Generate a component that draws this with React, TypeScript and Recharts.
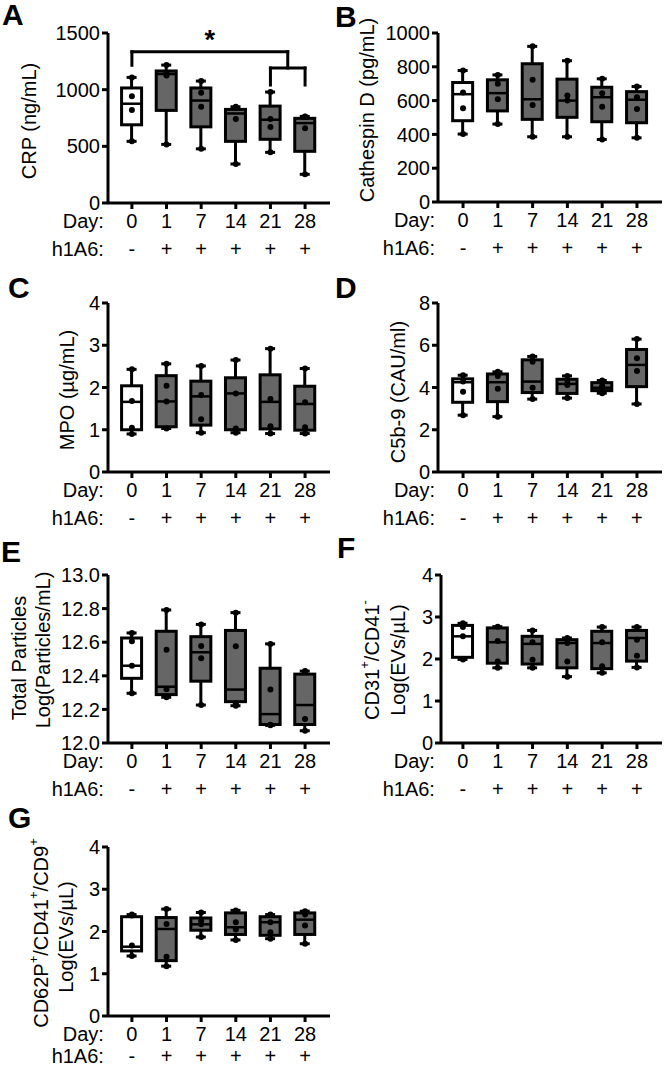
import React from "react";
import { Bar, ComposedChart, ReferenceDot, ReferenceLine, Scatter, XAxis, YAxis } from "recharts";

const FONT = '"Liberation Sans", Arial, Helvetica, sans-serif';
const BOX_GRAY = "#666666";

const days = ["0", "1", "7", "14", "21", "28"];
const h1a6 = ["-", "+", "+", "+", "+", "+"];

// A: CRP (ng/mL)
const crpMin = [544, 517, 478, 344, 447, 253];
const crpQ1 = [690, 817, 672, 544, 562, 456];
const crpMed = [876, 1138, 904, 790, 735, 705];
const crpQ3 = [1015, 1165, 1015, 826, 855, 747];
const crpMax = [1108, 1217, 1076, 849, 979, 764];
const crpDotA = [941, 1145, 973, 840, 741, 760];
const crpDotB = [820, 1125, 850, 742, 670, 660];

// B: Cathespin D (pg/mL)
const catMin = [402, 461, 386, 386, 370, 380];
const catQ1 = [481, 539, 489, 501, 475, 469];
const catMed = [638, 644, 608, 600, 620, 605];
const catQ3 = [707, 723, 818, 727, 679, 653];
const catMax = [778, 752, 921, 836, 729, 683];
const catDotA = [648, 699, 723, 630, 644, 620];
const catDotB = [554, 608, 574, 600, 564, 550];

// C: MPO (µg/mL)
const mpoMin = [0.9, 1.03, 0.93, 0.93, 0.91, 0.91];
const mpoQ1 = [1.0, 1.07, 1.11, 1.0, 1.02, 0.99];
const mpoMed = [1.66, 1.67, 1.79, 1.86, 1.66, 1.61];
const mpoQ3 = [2.04, 2.28, 2.15, 2.23, 2.3, 2.03];
const mpoMax = [2.43, 2.56, 2.51, 2.65, 2.92, 2.45];
const mpoDotA = [1.68, 2.04, 1.82, 1.86, 1.73, 1.65];
const mpoDotB = [1.05, 1.67, 1.25, 1.03, 1.08, 1.06];

// D: C5b-9 (CAU/ml)
const c5bMin = [2.69, 2.62, 3.45, 3.5, 3.73, 3.22];
const c5bQ1 = [3.3, 3.33, 3.76, 3.72, 3.85, 4.04];
const c5bMed = [4.25, 4.25, 4.28, 4.17, 3.99, 5.07];
const c5bQ3 = [4.41, 4.64, 5.31, 4.39, 4.23, 5.8];
const c5bMax = [4.58, 4.74, 5.47, 4.55, 4.33, 6.29];
const c5bDotA = [4.28, 4.55, 5.22, 4.22, 4.08, 5.38];
const c5bDotB = [3.8, 3.94, 3.99, 4.12, 4.0, 4.78];

// E: Total particles, log(particles/mL)
const totMin = [12.296, 12.272, 12.226, 12.222, 12.105, 12.073];
const totQ1 = [12.385, 12.288, 12.368, 12.246, 12.11, 12.11];
const totMed = [12.46, 12.335, 12.54, 12.318, 12.172, 12.226];
const totQ3 = [12.625, 12.665, 12.633, 12.67, 12.445, 12.41];
const totMax = [12.655, 12.792, 12.706, 12.776, 12.59, 12.428];
const totDotA = [12.605, 12.555, 12.578, 12.576, 12.318, 12.425];
const totDotB = [12.46, 12.32, 12.505, 12.235, 12.108, 12.143];

// F: CD31+/CD41- EVs, log(EVs/µL)
const cd31Min = [1.99, 1.79, 1.79, 1.58, 1.67, 1.8];
const cd31Q1 = [2.04, 1.9, 1.88, 1.79, 1.77, 1.95];
const cd31Med = [2.54, 2.4, 2.36, 2.38, 2.38, 2.5];
const cd31Q3 = [2.8, 2.74, 2.54, 2.46, 2.66, 2.68];
const cd31Max = [2.85, 2.77, 2.68, 2.5, 2.76, 2.76];
const cd31DotA = [2.54, 2.43, 2.4, 2.38, 2.4, 2.46];
const cd31DotB = [2.76, 1.94, 1.98, 1.94, 1.83, 2.08];

// G: CD62P+/CD41+/CD9+ EVs, log(EVs/µL)
const cd62Min = [1.42, 1.18, 1.87, 1.8, 1.83, 1.71];
const cd62Q1 = [1.54, 1.31, 2.03, 1.93, 1.91, 1.93];
const cd62Med = [1.64, 2.06, 2.17, 2.1, 2.22, 2.28];
const cd62Q3 = [2.35, 2.33, 2.32, 2.44, 2.35, 2.44];
const cd62Max = [2.4, 2.53, 2.45, 2.5, 2.4, 2.48];
const cd62DotA = [1.67, 2.18, 2.17, 2.22, 2.22, 2.14];
const cd62DotB = [2.38, 1.4, 2.25, 2.05, 1.98, 2.4];

type Row = {
  idx: number;
  min: number;
  q1: number;
  med: number;
  q3: number;
  max: number;
  d1: number;
  d2: number;
};

function toRows(
  min: number[],
  q1: number[],
  med: number[],
  q3: number[],
  max: number[],
  d1: number[],
  d2: number[]
): Row[] {
  return days.map((_, i) => ({
    idx: i,
    min: min[i],
    q1: q1[i],
    med: med[i],
    q3: q3[i],
    max: max[i],
    d1: d1[i],
    d2: d2[i]
  }));
}

// whisker + box drawn from the [min, max] range bar; inner levels share its linear scale
function BoxShape(props: any) {
  const { x, y, width, height, payload } = props;
  if (!payload) return null;
  const top = Math.min(y, y + height);
  const bot = Math.max(y, y + height);
  const span = payload.max - payload.min;
  const py = (v: number) => top + ((payload.max - v) / span) * (bot - top);
  const cx = x + width / 2;
  const fill = h1a6[payload.idx] === "-" ? "#ffffff" : BOX_GRAY;

  return (
    <g>
      <line x1={cx} x2={cx} y1={top} y2={bot} stroke="#000" strokeWidth={3} />
      <line x1={cx - 5} x2={cx + 5} y1={top} y2={top} stroke="#000" strokeWidth={3} />
      <line x1={cx - 5} x2={cx + 5} y1={bot} y2={bot} stroke="#000" strokeWidth={3} />
      <rect
        x={x}
        y={py(payload.q3)}
        width={width}
        height={py(payload.q1) - py(payload.q3)}
        fill={fill}
        stroke="#000"
        strokeWidth={3}
      />
      <line x1={x} x2={x + width} y1={py(payload.med)} y2={py(payload.med)} stroke="#000" strokeWidth={2.5} />
    </g>
  );
}

function DotShape(props: any) {
  return <circle cx={props.cx} cy={props.cy} r={3} fill="#000" />;
}

function DayTick(props: any) {
  const { x, y, payload, rows } = props;
  const i = payload.value as number;
  const [r1, r2] = rows as [number, number];
  return (
    <g fontSize={20} fill="#000">
      <text x={x} y={y + r1} textAnchor="middle">
        {days[i]}
      </text>
      <text x={x} y={y + r2} textAnchor="middle">
        {h1a6[i]}
      </text>
      {i === 0 && (
        <>
          <text x={x - 28} y={y + r1} textAnchor="end">
            Day:
          </text>
          <text x={x - 28} y={y + r2} textAnchor="end">
            h1A6:
          </text>
        </>
      )}
    </g>
  );
}

type TitleLine = { x: number; y: number; content: React.ReactNode };

function AxisTitle({ lines, x0, y0 }: { lines: TitleLine[]; x0: number; y0: number }) {
  return (
    <g>
      {lines.map((l, i) => {
        const tx = l.x - x0;
        const ty = l.y - y0;
        return (
          <text
            key={i}
            x={tx}
            y={ty}
            transform={`rotate(-90 ${tx} ${ty})`}
            textAnchor="middle"
            dominantBaseline="central"
            fontSize={20}
            fill="#000"
          >
            {l.content}
          </text>
        );
      })}
    </g>
  );
}

type PanelProps = {
  x0: number;
  y0: number;
  axisX: number;
  top: number;
  bottom: number;
  right: number;
  xDomain: [number, number];
  yDomain: [number, number];
  yTicks: number[];
  digits?: number;
  tickRows?: [number, number];
  titles: TitleLine[];
  rows: Row[];
  extras?: React.ReactNode[];
};

function BoxPanel(p: PanelProps) {
  const width = p.right - p.x0 + 2;
  const height = p.bottom - p.y0 + 60;
  const tickRows = p.tickRows ?? [17, 45];
  return (
    <div style={{ position: "absolute", left: p.x0, top: p.y0, width, height }}>
      <ComposedChart
        width={width}
        height={height}
        data={p.rows}
        margin={{ top: p.top - p.y0, right: 2, bottom: 0, left: 0 }}
      >
        <XAxis
          type="number"
          dataKey="idx"
          domain={p.xDomain}
          ticks={[0, 1, 2, 3, 4, 5]}
          interval={0}
          allowDataOverflow
          height={60}
          tickSize={6}
          axisLine={{ stroke: "#000", strokeWidth: 3 }}
          tickLine={{ stroke: "#000", strokeWidth: 3 }}
          tick={(t: any) => <DayTick {...t} rows={tickRows} />}
        />
        <YAxis
          type="number"
          domain={p.yDomain}
          ticks={p.yTicks}
          interval={0}
          allowDataOverflow
          width={p.axisX - p.x0}
          tickSize={6}
          axisLine={{ stroke: "#000", strokeWidth: 3 }}
          tickLine={{ stroke: "#000", strokeWidth: 3 }}
          tick={{ fontSize: 20, fill: "#000" }}
          tickFormatter={(v: number) => (p.digits ? v.toFixed(p.digits) : String(v))}
          label={<AxisTitle lines={p.titles} x0={p.x0} y0={p.y0} />}
        />
        <Bar
          dataKey={(r: Row) => [r.min, r.max]}
          barSize={20}
          shape={<BoxShape />}
          isAnimationActive={false}
        />
        <Scatter dataKey="min" shape={<DotShape />} isAnimationActive={false} />
        <Scatter dataKey="max" shape={<DotShape />} isAnimationActive={false} />
        <Scatter dataKey="d1" shape={<DotShape />} isAnimationActive={false} />
        <Scatter dataKey="d2" shape={<DotShape />} isAnimationActive={false} />
        {p.extras}
      </ComposedChart>
    </div>
  );
}

const crpBracket: [number, number][][] = [
  [[0, 1335], [4.5, 1335]],
  [[0, 1335], [0, 1215]],
  [[4.5, 1335], [4.5, 1191]],
  [[4, 1191], [5, 1191]],
  [[4, 1191], [4, 1041]],
  [[5, 1191], [5, 1041]]
];

const crpExtras = [
  ...crpBracket.map((seg, i) => (
    <ReferenceLine
      key={`br${i}`}
      segment={seg.map(([x, y]) => ({ x, y }))}
      stroke="#000"
      strokeWidth={3}
      strokeLinecap="square"
      ifOverflow="visible"
    />
  )),
  <ReferenceDot
    key="star"
    x={2.25}
    y={1500}
    r={0}
    ifOverflow="visible"
    shape={(s: any) => (
      <text x={s.cx} y={s.cy + 16} textAnchor="middle" fontSize={27} fontWeight="bold" fill="#000">
        *
      </text>
    )}
  />
];

const cd31Title = (
  <>
    <tspan>CD31</tspan>
    <tspan dy={-8} fontSize={13}>+</tspan>
    <tspan dy={8}>/CD41</tspan>
    <tspan dy={-8} fontSize={13}>-</tspan>
  </>
);

const cd62Title = (
  <>
    <tspan>CD62P</tspan>
    <tspan dy={-8} fontSize={13}>+</tspan>
    <tspan dy={8}>/CD41</tspan>
    <tspan dy={-8} fontSize={13}>+</tspan>
    <tspan dy={8}>/CD9</tspan>
    <tspan dy={-8} fontSize={13}>+</tspan>
  </>
);

const letters = [
  { t: "A", x: 2, y: 25 },
  { t: "B", x: 335, y: 27 },
  { t: "C", x: 8, y: 298 },
  { t: "D", x: 335, y: 298 },
  { t: "E", x: 1, y: 562 },
  { t: "F", x: 337, y: 558 },
  { t: "G", x: 8, y: 828 }
];

export default function App() {
  const left = { axisX: 108, right: 330, xDomain: [-0.69, 5.72] as [number, number] };
  const rightCol = { axisX: 438, right: 662, xDomain: [-0.72, 5.72] as [number, number] };

  return (
    <div
      style={{
        position: "absolute",
        left: 0,
        top: 0,
        width: 664,
        height: 1068,
        overflow: "hidden",
        background: "#fff",
        fontFamily: FONT
      }}
    >
      <BoxPanel
        x0={0}
        y0={0}
        top={33}
        bottom={203}
        {...left}
        yDomain={[0, 1500]}
        yTicks={[0, 500, 1000, 1500]}
        titles={[{ x: 29, y: 121, content: "CRP (ng/mL)" }]}
        rows={toRows(crpMin, crpQ1, crpMed, crpQ3, crpMax, crpDotA, crpDotB)}
        extras={crpExtras}
      />
      <BoxPanel
        x0={332}
        y0={0}
        top={33}
        bottom={202}
        {...rightCol}
        yDomain={[0, 1000]}
        yTicks={[0, 200, 400, 600, 800, 1000]}
        titles={[{ x: 367, y: 110, content: "Cathespin D (pg/mL)" }]}
        rows={toRows(catMin, catQ1, catMed, catQ3, catMax, catDotA, catDotB)}
      />
      <BoxPanel
        x0={0}
        y0={270}
        top={303}
        bottom={472}
        {...left}
        yDomain={[0, 4]}
        yTicks={[0, 1, 2, 3, 4]}
        titles={[{ x: 67, y: 390, content: "MPO (µg/mL)" }]}
        rows={toRows(mpoMin, mpoQ1, mpoMed, mpoQ3, mpoMax, mpoDotA, mpoDotB)}
      />
      <BoxPanel
        x0={332}
        y0={270}
        top={303}
        bottom={472}
        {...rightCol}
        yDomain={[0, 8]}
        yTicks={[0, 2, 4, 6, 8]}
        titles={[{ x: 398, y: 392, content: "C5b-9 (CAU/ml)" }]}
        rows={toRows(c5bMin, c5bQ1, c5bMed, c5bQ3, c5bMax, c5bDotA, c5bDotB)}
      />
      <BoxPanel
        x0={0}
        y0={540}
        top={575}
        bottom={743}
        {...left}
        yDomain={[12, 13]}
        yTicks={[12, 12.2, 12.4, 12.6, 12.8, 13]}
        digits={1}
        titles={[
          { x: 19, y: 658, content: "Total Particles" },
          { x: 43, y: 650, content: "Log(Particles/mL)" }
        ]}
        rows={toRows(totMin, totQ1, totMed, totQ3, totMax, totDotA, totDotB)}
      />
      <BoxPanel
        x0={332}
        y0={540}
        top={575}
        bottom={743}
        axisX={441}
        right={662}
        xDomain={[-0.63, 5.72]}
        yDomain={[0, 4]}
        yTicks={[0, 1, 2, 3, 4]}
        titles={[
          { x: 372, y: 660, content: cd31Title },
          { x: 398, y: 660, content: "Log(EVs/µL)" }
        ]}
        rows={toRows(cd31Min, cd31Q1, cd31Med, cd31Q3, cd31Max, cd31DotA, cd31DotB)}
      />
      <BoxPanel
        x0={0}
        y0={810}
        top={847}
        bottom={1016}
        {...left}
        yDomain={[0, 4]}
        yTicks={[0, 1, 2, 3, 4]}
        tickRows={[17, 39]}
        titles={[
          { x: 41, y: 933, content: cd62Title },
          { x: 66, y: 937, content: "Log(EVs/µL)" }
        ]}
        rows={toRows(cd62Min, cd62Q1, cd62Med, cd62Q3, cd62Max, cd62DotA, cd62DotB)}
      />
      <svg
        width={664}
        height={1068}
        style={{ position: "absolute", left: 0, top: 0, pointerEvents: "none" }}
      >
        {letters.map((l) => (
          <text key={l.t} x={l.x} y={l.y} fontSize={30} fontWeight="bold" fill="#000" fontFamily={FONT}>
            {l.t}
          </text>
        ))}
      </svg>
    </div>
  );
}
